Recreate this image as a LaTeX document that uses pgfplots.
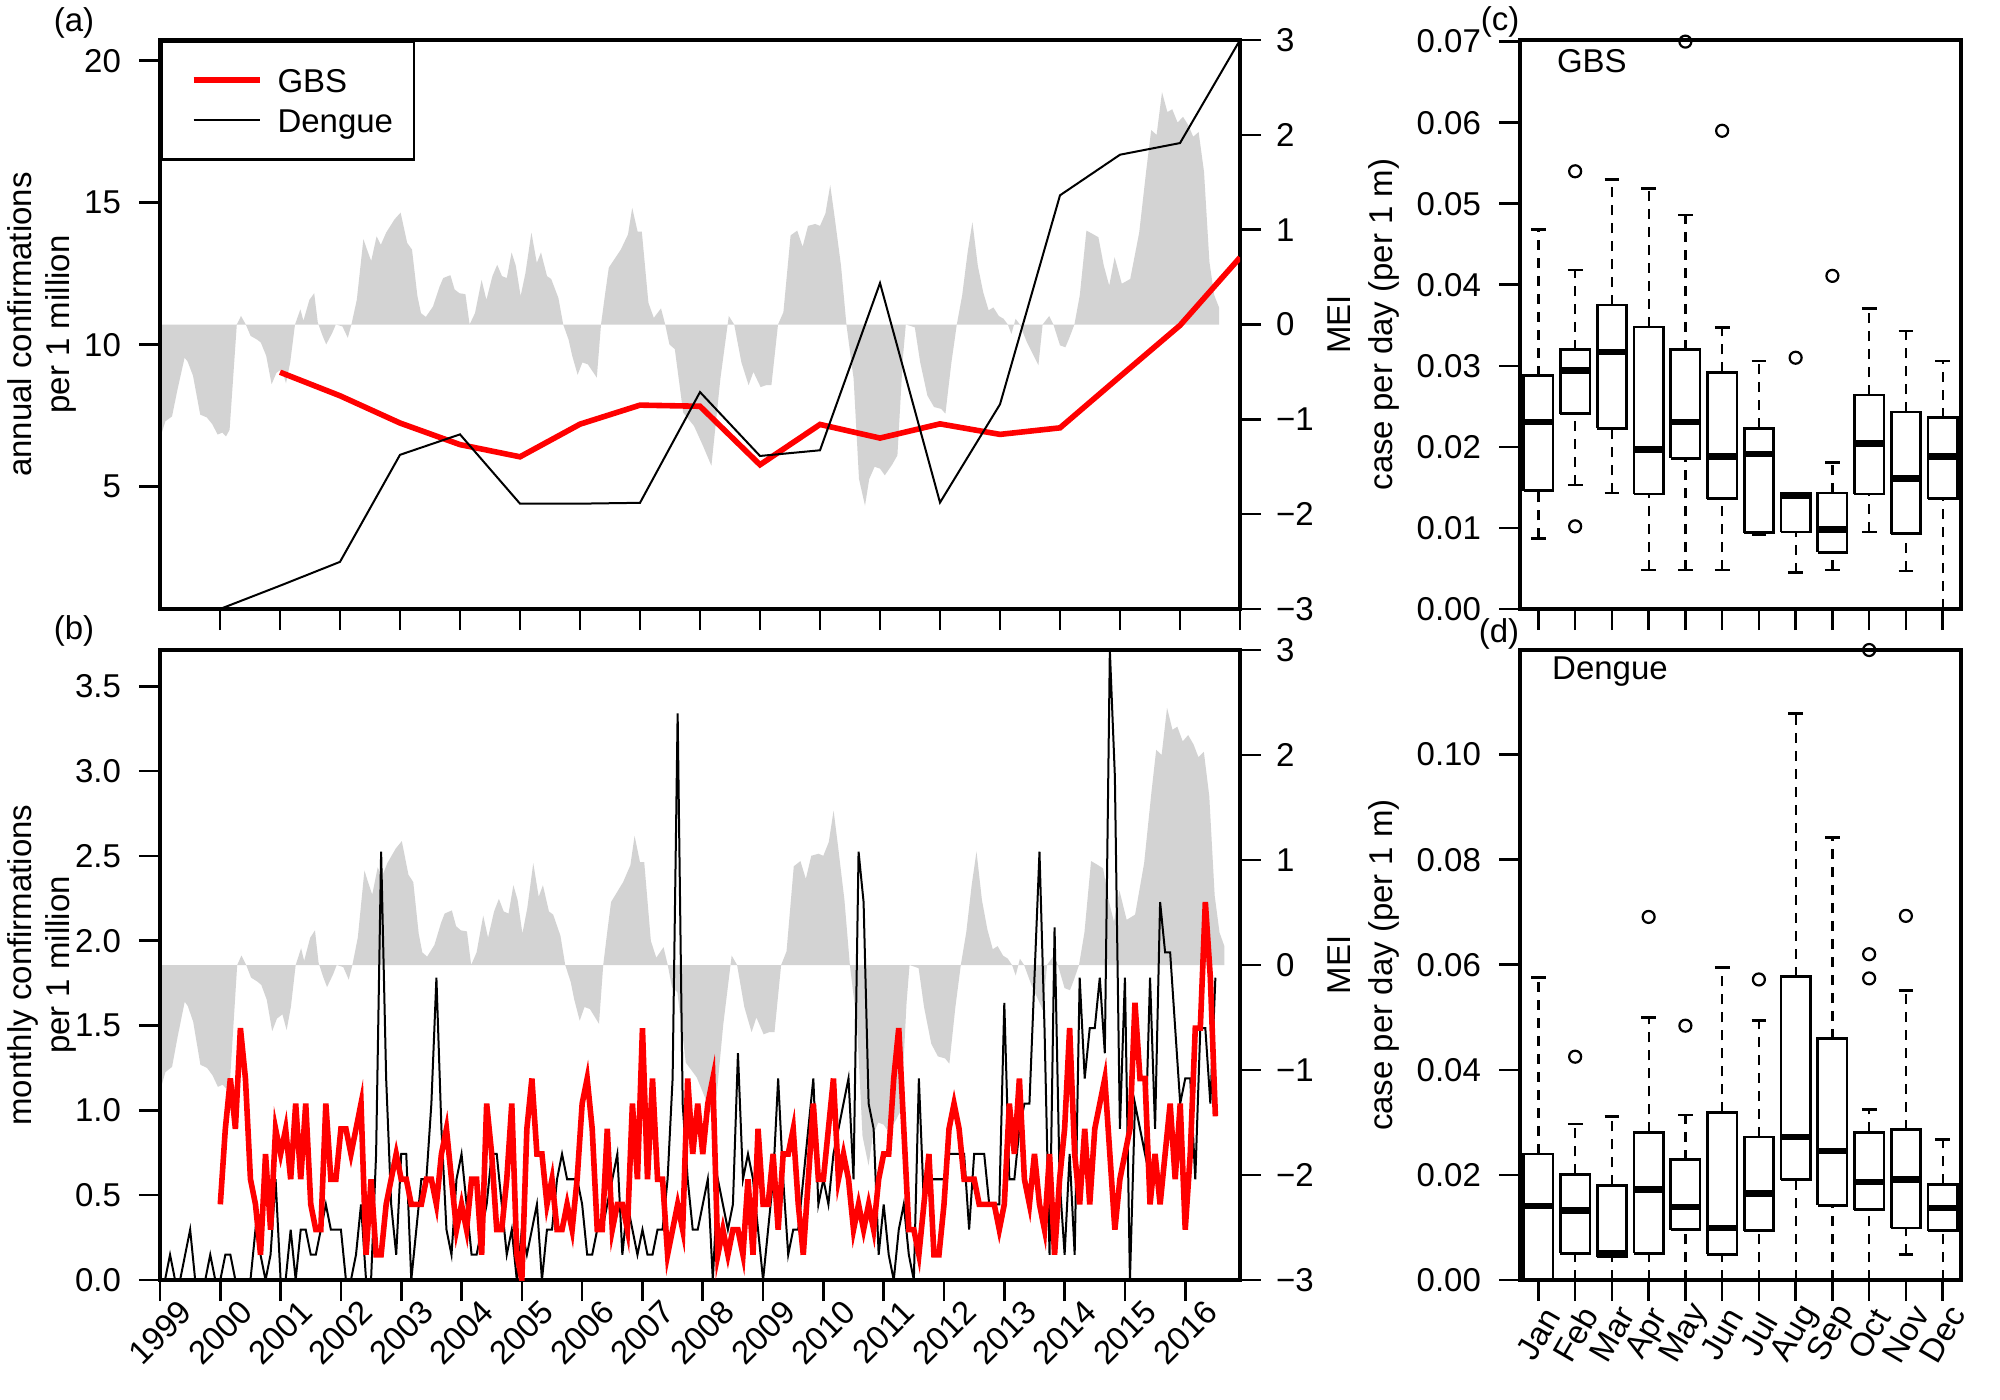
\documentclass[border=0pt]{standalone}
\usepackage{fontspec}
\setmainfont{Liberation Sans}
\usepackage{pgfplots}
\pgfplotsset{compat=1.18}
\usepackage{pgfplotstable}
\definecolor{meigray}{RGB}{211,211,211}
\definecolor{gbsred}{RGB}{255,0,0}

\pgfplotstableread{
year mei
1999.00 -1.15
1999.03 -1.14
1999.09 -1.02
1999.20 -0.97
1999.29 -0.69
1999.41 -0.35
1999.46 -0.39
1999.55 -0.54
1999.67 -0.95
1999.78 -0.98
1999.87 -1.05
1999.96 -1.16
2000.04 -1.14
2000.10 -1.18
2000.16 -1.11
2000.28 0.00
2000.35 0.09
2000.43 0.00
2000.51 -0.12
2000.62 -0.16
2000.68 -0.19
2000.77 -0.33
2000.86 -0.63
2000.94 -0.51
2001.03 -0.47
2001.10 -0.62
2001.17 -0.40
2001.25 0.00
2001.34 0.16
2001.39 0.04
2001.49 0.26
2001.57 0.33
2001.63 0.02
2001.71 -0.12
2001.77 -0.21
2001.87 -0.09
2001.93 0.00
2002.04 -0.02
2002.13 -0.14
2002.19 0.00
2002.28 0.26
2002.39 0.90
2002.45 0.79
2002.52 0.67
2002.61 0.93
2002.68 0.84
2002.77 0.97
2002.91 1.11
2003.01 1.18
2003.12 0.86
2003.20 0.79
2003.29 0.30
2003.35 0.12
2003.43 0.08
2003.55 0.19
2003.66 0.40
2003.72 0.49
2003.84 0.52
2003.91 0.37
2003.99 0.33
2004.09 0.32
2004.16 0.00
2004.25 0.12
2004.36 0.47
2004.44 0.26
2004.54 0.51
2004.62 0.63
2004.70 0.51
2004.78 0.49
2004.86 0.76
2004.93 0.62
2005.01 0.30
2005.09 0.54
2005.19 0.97
2005.28 0.65
2005.35 0.76
2005.45 0.51
2005.52 0.48
2005.64 0.28
2005.72 0.00
2005.81 -0.16
2005.87 -0.33
2005.96 -0.53
2006.04 -0.40
2006.13 -0.42
2006.28 -0.56
2006.35 0.00
2006.42 0.33
2006.48 0.60
2006.68 0.79
2006.80 0.95
2006.87 1.23
2006.96 0.98
2007.03 0.98
2007.14 0.23
2007.23 0.07
2007.35 0.17
2007.42 0.00
2007.49 -0.21
2007.58 -0.26
2007.72 -0.93
2007.90 -1.07
2008.05 -1.28
2008.19 -1.49
2008.34 -0.57
2008.48 0.09
2008.57 0.00
2008.69 -0.40
2008.81 -0.64
2008.89 -0.50
2009.01 -0.66
2009.10 -0.64
2009.19 -0.64
2009.30 0.00
2009.39 0.13
2009.51 0.94
2009.62 0.99
2009.71 0.82
2009.80 1.04
2009.92 1.06
2010.00 1.04
2010.09 1.17
2010.17 1.47
2010.24 1.15
2010.35 0.62
2010.44 0.00
2010.56 -0.57
2010.65 -1.63
2010.75 -1.91
2010.82 -1.63
2010.91 -1.50
2011.00 -1.52
2011.08 -1.59
2011.20 -1.48
2011.29 -1.38
2011.38 -0.36
2011.43 0.00
2011.58 -0.03
2011.67 -0.40
2011.79 -0.75
2011.90 -0.87
2012.02 -0.89
2012.09 -0.94
2012.19 -0.40
2012.28 0.00
2012.37 0.31
2012.46 0.76
2012.54 1.08
2012.63 0.62
2012.72 0.34
2012.81 0.15
2012.89 0.18
2012.98 0.09
2013.06 0.06
2013.13 0.00
2013.19 -0.10
2013.26 0.06
2013.33 0.00
2013.45 -0.19
2013.57 -0.34
2013.64 -0.43
2013.71 0.00
2013.82 0.09
2013.89 0.00
2014.00 -0.22
2014.09 -0.24
2014.15 -0.15
2014.24 0.00
2014.33 0.31
2014.44 0.99
2014.53 0.96
2014.64 0.92
2014.73 0.62
2014.82 0.41
2014.91 0.71
2015.03 0.43
2015.17 0.48
2015.32 0.97
2015.44 1.64
2015.52 2.05
2015.61 2.00
2015.70 2.45
2015.79 2.24
2015.87 2.27
2015.96 2.13
2016.05 2.19
2016.14 2.10
2016.22 1.98
2016.31 2.03
2016.40 1.61
2016.49 0.66
2016.57 0.31
2016.65 0.18
}\meitable

\pgfplotstableread{
year val
2000 0.69
2001 1.51
2002 2.35
2003 6.12
2004 6.84
2005 4.40
2006 4.40
2007 4.43
2008 8.33
2009 6.08
2010 6.28
2011 12.17
2012 4.44
2013 7.90
2014 15.26
2015 16.69
2016 17.10
2017 20.73
}\dengueannual

\pgfplotstableread{
year val
2001 9.03
2002 8.20
2003 7.24
2004 6.48
2005 6.05
2006 7.20
2007 7.87
2008 7.83
2009 5.77
2010 7.19
2011 6.71
2012 7.21
2013 6.84
2014 7.07
2015 8.88
2016 10.68
2017 13.07
}\gbsannual

\pgfplotstableread{
m d g
0 0 nan
1 0 nan
2 0.149 nan
3 0 nan
4 0 nan
5 0.149 nan
6 0.297 nan
7 0 nan
8 0 nan
9 0 nan
10 0.149 nan
11 0 nan
12 0 0.446
13 0.149 0.891
14 0.149 1.188
15 0 0.891
16 0 1.485
17 0 1.188
18 0 0.594
19 0.297 0.446
20 0.149 0.149
21 0 0.743
22 0.149 0.297
23 0.594 0.891
24 0 0.743
25 0 0.891
26 0.297 0.594
27 0 1.040
28 0.297 0.594
29 0.297 1.040
30 0.149 0.446
31 0.149 0.297
32 0.297 0.297
33 0.446 1.040
34 0.297 0.594
35 0.297 0.594
36 0.297 0.891
37 0 0.891
38 0 0.743
39 0.149 0.891
40 0.446 1.040
41 0 0.149
42 0 0.594
43 0.743 0.149
44 2.525 0.149
45 1.188 0.446
46 0.446 0.594
47 0.149 0.743
48 0.743 0.594
49 0.743 0.594
50 0 0.446
51 0.297 0.446
52 0.594 0.446
53 0.594 0.594
54 1.040 0.594
55 1.782 0.446
56 0.891 0.743
57 0.297 0.891
58 0.149 0.594
59 0.594 0.297
60 0.743 0.446
61 0.446 0.297
62 0.149 0.594
63 0.149 0.594
64 0.297 0.149
65 0.446 1.040
66 0.743 0.743
67 0.743 0.297
68 0.446 0.297
69 0.149 0.594
70 0.297 1.040
71 0 0.149
72 0.297 0
73 0.149 0.891
74 0.297 1.188
75 0.446 0.743
76 0 0.743
77 0.297 0.446
78 0.297 0.594
79 0.594 0.297
80 0.743 0.297
81 0.594 0.446
82 0.594 0.297
83 0.594 0.594
84 0.446 1.040
85 0.149 1.188
86 0.149 0.891
87 0.297 0.297
88 0.297 0.297
89 0.446 0.891
90 0.594 0.297
91 0.743 0.446
92 0.149 0.446
93 0.446 0.297
94 0.297 1.040
95 0.149 0.594
96 0.297 1.485
97 0.149 0.594
98 0.149 1.188
99 0.297 0.594
100 0.297 0.594
101 0.594 0.149
102 1.188 0.297
103 3.341 0.446
104 1.040 0.297
105 0.594 1.188
106 0.297 0.743
107 0.297 1.040
108 0.446 0.743
109 0.594 1.040
110 0 1.188
111 0.594 0.149
112 0.446 0.297
113 0.297 0.149
114 0.446 0.297
115 1.337 0.297
116 0.594 0.149
117 0.743 0.594
118 0.594 0.149
119 0.297 0.891
120 0 0.446
121 0.297 0.446
122 0.594 0.743
123 1.188 0.297
124 0.594 0.743
125 0.149 0.743
126 0.297 0.891
127 0.297 0.446
128 0.594 0.149
129 0.891 0.594
130 1.188 1.040
131 0.446 0.594
132 0.594 0.594
133 0.446 0.891
134 0.743 1.188
135 0.891 0.594
136 1.040 0.743
137 1.188 0.594
138 0.594 0.297
139 2.525 0.446
140 2.228 0.297
141 1.040 0.446
142 0.891 0.297
143 0.149 0.594
144 0.446 0.743
145 0.149 0.743
146 0 1.188
147 0.297 1.485
148 0.446 0.891
149 0.149 0.297
150 0 0.297
151 1.188 0.149
152 0.446 0.446
153 0.594 0.743
154 0.594 0.149
155 0.594 0.149
156 0.594 0.446
157 0.743 0.891
158 0.743 1.040
159 0.743 0.891
160 0.743 0.594
161 0.297 0.594
162 0.743 0.594
163 0.743 0.446
164 0.743 0.446
165 0.446 0.446
166 0.446 0.446
167 0.446 0.297
168 1.634 0.446
169 0.594 1.040
170 0.594 0.743
171 0.891 1.188
172 1.040 0.594
173 1.040 0.446
174 1.782 0.743
175 2.525 0.446
176 1.485 0.297
177 0.149 0.743
178 2.079 0.149
179 0.594 0.594
180 0.149 0.891
181 0.743 1.485
182 0.149 0.743
183 1.782 0.446
184 1.188 0.891
185 1.485 0.446
186 1.485 0.891
187 1.782 1.040
188 1.337 1.188
189 3.713 0.743
190 2.970 0.297
191 0.891 0.594
192 1.782 0.743
193 0 0.891
194 1.040 1.634
195 0.891 1.188
196 0.743 1.188
197 1.782 0.446
198 0.891 0.743
199 2.228 0.446
200 1.931 0.743
201 1.931 1.040
202 1.485 0.594
203 1.040 1.040
204 1.188 0.297
205 1.188 0.743
206 0.594 1.485
207 1.485 1.485
208 1.485 2.228
209 1.040 1.782
210 1.782 0.965
}\monthly

\newcommand{\fs}{\fontsize{16.5}{19}\selectfont}

\pgfplotsset{
  mybase/.style={
    scale only axis,
    anchor=south west,
    tick align=outside,
    major tick length=10.5pt,
    tick style={black, line width=1.3pt},
    axis line style={line width=1.8pt},
    tick label style={font=\fs},
    label style={font=\fs},
    /pgf/number format/assume math mode=true,
    scaled ticks=false,
  },
  meiaxis/.style={
    mybase,
    xmin=1999, ymin=-3, ymax=3,
    xtick=\empty,
    ytick={-3,-2,-1,0,1,2,3},
    yticklabels={−3,−2,−1,0,1,2,3},
    ytick pos=right, yticklabel pos=right,
    yticklabel style={xshift=4pt},
    axis line style={draw=none},
    ylabel={MEI},
    ylabel style={at={(axis description cs:1.092,0.5)}, anchor=center},
  },
  boxaxis/.style={
    mybase,
    xmin=0.5, xmax=12.5, ymin=0,
    xtick={1,...,12}, xtick pos=left, ytick pos=left,
    yticklabel style={xshift=-5.5pt, /pgf/number format/.cd, fixed, fixed zerofill, precision=2},
    ylabel={case per day (per 1 m)},
    ylabel style={at={(axis description cs:-0.308,0.5)}, anchor=center},
  },
  bwhisk/.style={black, line width=1.1pt, dash pattern=on 5pt off 4pt},
  bcap/.style={black, line width=1.3pt},
  bbox/.style={black, line width=1.35pt, line join=miter},
  bmed/.style={black, line width=3.2pt},
  bout/.style={black, only marks, mark=o, mark size=3pt, mark options={solid, line width=1.1pt}},
}

% one box: position, lower whisker, lower quartile, median, upper quartile, upper whisker
\newcommand{\bxm}[6]{%
  \pgfmathsetmacro{\xl}{#1-0.4}%
  \pgfmathsetmacro{\xr}{#1+0.4}%
  \pgfmathsetmacro{\cl}{#1-0.2}%
  \pgfmathsetmacro{\cr}{#1+0.2}%
  \addplot[bwhisk] coordinates {(#1,#2) (#1,#3)};
  \addplot[bwhisk] coordinates {(#1,#5) (#1,#6)};
  \addplot[bcap] coordinates {(\cl,#2) (\cr,#2)};
  \addplot[bcap] coordinates {(\cl,#6) (\cr,#6)};
  \addplot[bbox] coordinates {(\xl,#3) (\xr,#3) (\xr,#5) (\xl,#5) (\xl,#3)};
  \addplot[bmed] coordinates {(\xl,#4) (\xr,#4)};
}

\begin{document}
\begin{tikzpicture}
\path (0pt,0pt) rectangle (1000pt,-700pt);

% ---------- (a) MEI ----------
\begin{axis}[meiaxis, at={(80pt,-304.5pt)}, width=540pt, height=284.5pt, xmax=2017]
\addplot[fill=meigray, draw=none] table[x=year,y=mei] {\meitable} \closedcycle;
\end{axis}
% ---------- (a) annual ----------
\begin{axis}[mybase, at={(80pt,-304.5pt)}, width=540pt, height=284.5pt,
  xmin=1999, xmax=2017, ymin=0.69, ymax=20.73,
  xtick={2000,...,2017}, xticklabels={}, xtick pos=left,
  ytick={5,10,15,20}, ytick pos=left,
  yticklabel style={xshift=-5.5pt},
  ylabel={annual confirmations\\per 1 million},
  ylabel style={align=center, at={(axis description cs:-0.109,0.5)}, anchor=center},
  legend style={at={(0,1)}, anchor=north west, draw=black, line width=1.3pt, fill=white,
    inner xsep=10.5pt, inner ysep=11.5pt, row sep=4pt,
    font=\fs,
    nodes={inner xsep=0pt, inner ysep=0pt, text height=14pt, text depth=2pt},
    /tikz/every odd column/.append style={column sep=7.6pt}},
  legend cell align=left,
  legend image code/.code={\path (0pt,0pt); \draw[#1] (4.2pt,0pt) -- (37.2pt,0pt);},
]
\addplot[gbsred, line width=2.8pt] table[x=year,y=val] {\gbsannual};
\addlegendentry{GBS}
\addplot[black, line width=1pt] table[x=year,y=val] {\dengueannual};
\addlegendentry{Dengue}
\end{axis}

% ---------- (b) MEI ----------
\begin{axis}[meiaxis, at={(80pt,-640pt)}, width=540pt, height=315pt, xmax=2016.91]
\addplot[fill=meigray, draw=none] table[x=year,y=mei] {\meitable} \closedcycle;
\end{axis}
% ---------- (b) monthly ----------
\begin{axis}[mybase, at={(80pt,-640pt)}, width=540pt, height=315pt,
  xmin=0, xmax=214.9, ymin=0, ymax=3.714,
  xtick={0,12,...,204},
  xticklabels={1999,2000,2001,2002,2003,2004,2005,2006,2007,2008,2009,2010,2011,2012,2013,2014,2015,2016},
  xtick pos=left,
  xticklabel style={yshift=-15.5pt, rotate=45, anchor=center},
  ytick={0,0.5,1,1.5,2,2.5,3,3.5}, ytick pos=left,
  yticklabel style={xshift=-5.5pt, /pgf/number format/.cd, fixed, fixed zerofill, precision=1},
  ylabel={monthly confirmations\\per 1 million},
  ylabel style={align=center, at={(axis description cs:-0.109,0.5)}, anchor=center},
]
\addplot[black, line width=1pt] table[x=m,y=d] {\monthly};
\addplot[gbsred, line width=2.8pt] table[x=m,y=g] {\monthly};
\end{axis}

% ---------- (c) GBS boxplots ----------
\begin{axis}[boxaxis, at={(760pt,-304.5pt)}, width=220.5pt, height=284.5pt,
  ymax=0.0702, xticklabels={},
  ytick={0,0.01,0.02,0.03,0.04,0.05,0.06,0.07},
]
\bxm{1}{0.0087}{0.0146}{0.0231}{0.0288}{0.0468}
\bxm{2}{0.0153}{0.0241}{0.0294}{0.0320}{0.0418}
\bxm{3}{0.0143}{0.0223}{0.0317}{0.0375}{0.0530}
\bxm{4}{0.0048}{0.0142}{0.0197}{0.0348}{0.0519}
\bxm{5}{0.0048}{0.0186}{0.0231}{0.0320}{0.0486}
\bxm{6}{0.0048}{0.0136}{0.0188}{0.0292}{0.0347}
\bxm{7}{0.0092}{0.0094}{0.0191}{0.0223}{0.0306}
\bxm{8}{0.0045}{0.0095}{0.0140}{0.0143}{0.0143}
\bxm{9}{0.0048}{0.0070}{0.0098}{0.0143}{0.0181}
\bxm{10}{0.0095}{0.0142}{0.0204}{0.0264}{0.0371}
\bxm{11}{0.0047}{0.0093}{0.0161}{0.0243}{0.0343}
\bxm{12}{0.0}{0.0136}{0.0188}{0.0236}{0.0306}
\addplot[bout] coordinates {(2,0.0540) (2,0.0102) (5,0.0700) (6,0.0590) (8,0.0310) (9,0.0411)};
\node[font=\fs] at (axis description cs:0.163,0.963) {GBS};
\end{axis}

% ---------- (d) Dengue boxplots ----------
\begin{axis}[boxaxis, at={(760pt,-640pt)}, width=220.5pt, height=315pt,
  ymax=0.1199,
  xticklabels={Jan,Feb,Mar,Apr,May,Jun,Jul,Aug,Sep,Oct,Nov,Dec},
  xticklabel style={yshift=-16.5pt, rotate=60, anchor=center},
  ytick={0,0.02,0.04,0.06,0.08,0.10},
]
\bxm{1}{0.0}{0.0}{0.0141}{0.0240}{0.0576}
\bxm{2}{0.0}{0.0051}{0.0132}{0.0201}{0.0297}
\bxm{3}{0.0}{0.0044}{0.0051}{0.0180}{0.0311}
\bxm{4}{0.0}{0.0051}{0.0172}{0.0281}{0.0500}
\bxm{5}{0.0}{0.0096}{0.0139}{0.0229}{0.0314}
\bxm{6}{0.0}{0.0049}{0.0099}{0.0319}{0.0595}
\bxm{7}{0.0}{0.0094}{0.0165}{0.0272}{0.0494}
\bxm{8}{0.0}{0.0191}{0.0272}{0.0577}{0.1078}
\bxm{9}{0.0}{0.0142}{0.0245}{0.0459}{0.0842}
\bxm{10}{0.0}{0.0134}{0.0186}{0.0281}{0.0324}
\bxm{11}{0.0049}{0.0099}{0.0191}{0.0286}{0.0551}
\bxm{12}{0.0}{0.0094}{0.0137}{0.0182}{0.0267}
\addplot[bout] coordinates {(2,0.0425) (4,0.0691) (5,0.0484) (7,0.0572) (10,0.1199) (10,0.0620) (10,0.0574) (11,0.0693)};
\node[font=\fs] at (axis description cs:0.204,0.965) {Dengue};
\end{axis}

% ---------- panel letters ----------
\node[font=\fs, inner sep=0pt] at (37pt,-11.5pt) {(a)};
\node[font=\fs, inner sep=0pt] at (37pt,-315.5pt) {(b)};
\node[font=\fs, inner sep=0pt] at (750pt,-11pt) {(c)};
\node[font=\fs, inner sep=0pt] at (749.5pt,-317pt) {(d)};
\end{tikzpicture}
\end{document}
